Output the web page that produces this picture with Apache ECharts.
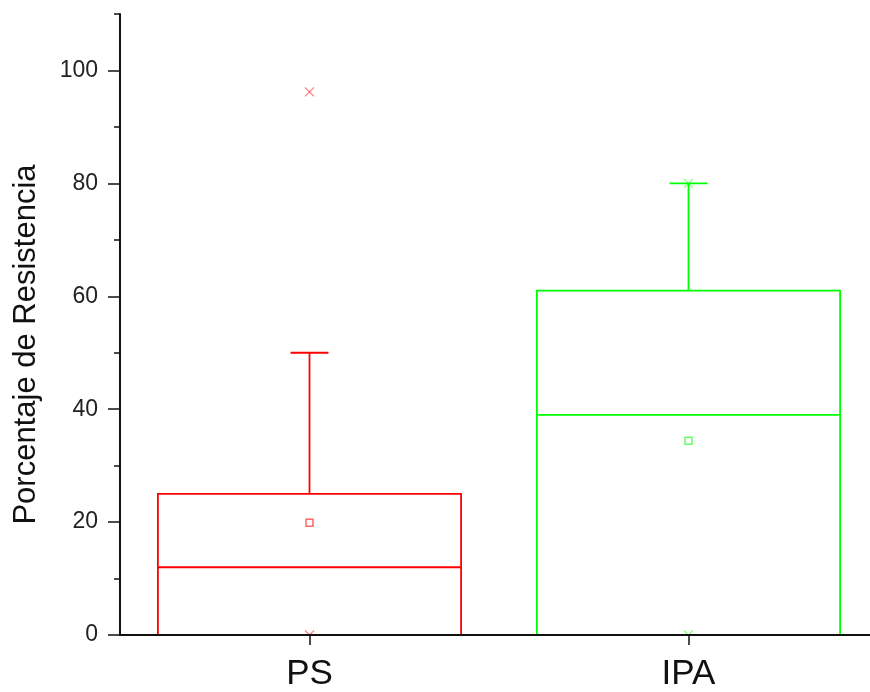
<!DOCTYPE html>
<html>
<head>
<meta charset="utf-8">
<script src="https://cdn.jsdelivr.net/npm/echarts@6/dist/echarts.min.js"></script>
<style>
html,body{margin:0;padding:0;background:#fff;}
#chart{width:870px;height:692px;}
</style>
</head>
<body>
<div id="chart"></div>
<script>
// ---- data ----
var categories = ['PS', 'IPA'];
var seriesColors = ['#ff0000', '#00ff00'];
var q1Vals = [0, 0];
var medianVals = [12, 39];
var q3Vals = [25, 61];
var whiskerLow = [0, 0];
var whiskerHigh = [50, 80];
var meanVals = [19.9, 34.4];
var minVals = [0, 0];
var maxVals = [96.2, 80];
var majorTicks = [0, 20, 40, 60, 80, 100];
var minorTicks = [10, 30, 50, 70, 90, 110];

var boxData = categories.map(function (c, i) {
  return [i, q1Vals[i], medianVals[i], q3Vals[i], whiskerLow[i], whiskerHigh[i]];
});
var meanData = categories.map(function (c, i) {
  return { value: [i, meanVals[i]], itemStyle: { borderColor: seriesColors[i] } };
});
var extremeData = [];
categories.forEach(function (c, i) {
  extremeData.push([i, minVals[i]]);
  extremeData.push([i, maxVals[i]]);
});

var chart = echarts.init(document.getElementById('chart'));
var font = 'Liberation Sans, Arial, sans-serif';

chart.setOption({
  animation: false,
  backgroundColor: '#ffffff',
  grid: { left: 120, width: 758, top: 14, bottom: 57, containLabel: false, outerBoundsMode: 'none' },
  xAxis: {
    type: 'category',
    data: categories,
    boundaryGap: true,
    z: 5,
    axisLine: { show: true, onZero: false, lineStyle: { color: '#111', width: 2 } },
    axisTick: { show: true, alignWithLabel: true, length: 10, lineStyle: { color: '#111', width: 1.5 } },
    axisLabel: { color: '#111', fontSize: 35, fontFamily: font, margin: 22 },
    splitLine: { show: false }
  },
  yAxis: [{
    type: 'value',
    min: 0,
    max: 110,
    name: 'Porcentaje de Resistencia',
    nameLocation: 'middle',
    nameGap: 78,
    nameTextStyle: { color: '#111', fontSize: 31, fontFamily: font, padding: [0, 40, 0, 0] },
    z: 5,
    axisLine: { show: true, lineStyle: { color: '#111', width: 2 } },
    axisTick: { show: true, length: 12, customValues: majorTicks, lineStyle: { color: '#111', width: 1.5 } },
    axisLabel: { customValues: majorTicks, color: '#222', fontSize: 23, fontFamily: font, margin: 22 },
    splitLine: { show: false }
  }, {
    type: 'value',
    min: 0,
    max: 110,
    position: 'left',
    z: 5,
    axisLine: { show: false },
    axisTick: { show: true, length: 6, customValues: minorTicks, lineStyle: { color: '#111', width: 1.5 } },
    axisLabel: { show: false },
    splitLine: { show: false }
  }],
  series: [{
    type: 'custom',
    z: 1,
    data: boxData,
    encode: { x: 0, y: [1, 2, 3, 4, 5] },
    renderItem: function (params, api) {
      var i = api.value(0);
      var bw = api.size([1, 0])[0];
      var hb = bw * 0.4, hc = bw * 0.05;
      var pQ1 = api.coord([i, api.value(1)]);
      var pMed = api.coord([i, api.value(2)]);
      var pQ3 = api.coord([i, api.value(3)]);
      var pLow = api.coord([i, api.value(4)]);
      var pHigh = api.coord([i, api.value(5)]);
      var cx = pQ1[0];
      var st = { stroke: seriesColors[i], lineWidth: 1.8, fill: null };
      var children = [
        { type: 'rect', shape: { x: cx - hb, y: pQ3[1], width: 2 * hb, height: pQ1[1] - pQ3[1] }, style: st },
        { type: 'line', shape: { x1: cx - hb, y1: pMed[1], x2: cx + hb, y2: pMed[1] }, style: st },
        { type: 'line', shape: { x1: cx, y1: pQ3[1], x2: cx, y2: pHigh[1] }, style: st },
        { type: 'line', shape: { x1: cx - hc, y1: pHigh[1], x2: cx + hc, y2: pHigh[1] }, style: st }
      ];
      if (api.value(4) < api.value(1)) {
        children.push({ type: 'line', shape: { x1: cx, y1: pQ1[1], x2: cx, y2: pLow[1] }, style: st });
        children.push({ type: 'line', shape: { x1: cx - hc, y1: pLow[1], x2: cx + hc, y2: pLow[1] }, style: st });
      }
      return { type: 'group', children: children };
    }
  }, {
    type: 'scatter',
    z: 3,
    data: meanData,
    symbol: 'rect',
    symbolSize: 7,
    itemStyle: { color: 'rgba(255,255,255,0)', borderWidth: 1.5, opacity: 0.6 }
  }, {
    type: 'custom',
    z: 3,
    clip: true,
    data: extremeData,
    encode: { x: 0, y: 1 },
    renderItem: function (params, api) {
      var i = api.value(0);
      var p = api.coord([i, api.value(1)]);
      var s = 4.5;
      var st = { stroke: seriesColors[i], lineWidth: 1.3, opacity: 0.5, fill: null };
      return {
        type: 'group',
        children: [
          { type: 'line', shape: { x1: p[0] - s, y1: p[1] - s, x2: p[0] + s, y2: p[1] + s }, style: st },
          { type: 'line', shape: { x1: p[0] + s, y1: p[1] - s, x2: p[0] - s, y2: p[1] + s }, style: st }
        ]
      };
    }
  }]
});
</script>
</body>
</html>
